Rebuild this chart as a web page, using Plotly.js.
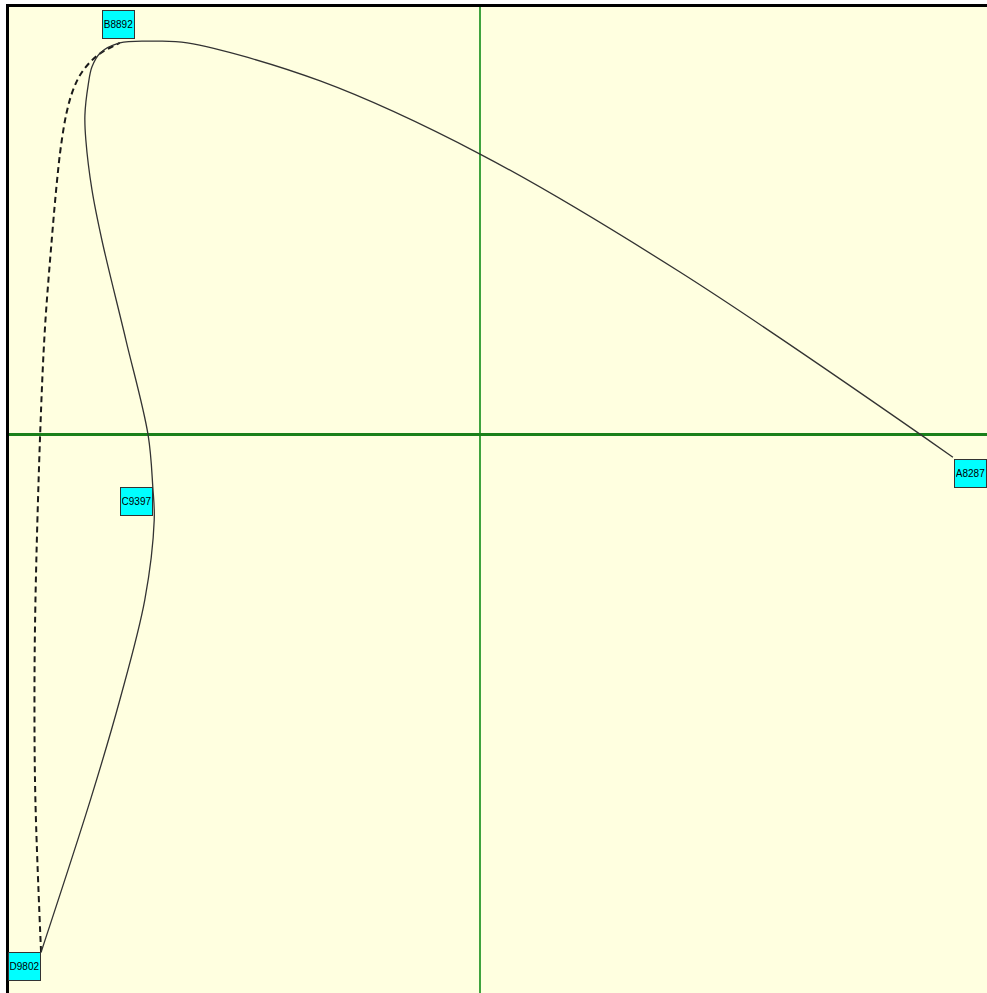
<!DOCTYPE html>
<html>
<head>
<meta charset="utf-8">
<script src="https://cdn.plot.ly/plotly-3.0.1.min.js"></script>
<style>
  html, body { margin: 0; padding: 0; background: #ffffff; }
  #chart { width: 987px; height: 993px; }
</style>
</head>
<body>
<div id="chart"></div>
<script>
// Labelled points
const pointLabels = ["A8287", "B8892", "C9397", "D9802"];
const pointX = [1.002, -0.765, -0.695, -0.932];
const pointY = [-0.053, 0.916, -0.123, -1.211];

// Solid path A -> B -> C -> D
const solidX = [1.002, 0.423, -0.001, -0.340, -0.622, -0.695, -0.765,
                -0.807, -0.824, -0.832, -0.839, -0.837, -0.824, -0.803, -0.752, -0.705,
                -0.695, -0.692, -0.712, -0.765, -0.826, -0.932];
const solidY = [-0.053, 0.380, 0.656, 0.827, 0.916, 0.920, 0.916,
                0.892, 0.860, 0.818, 0.747, 0.689, 0.572, 0.455, 0.221, -0.001,
                -0.123, -0.200, -0.387, -0.621, -0.850, -1.211];

// Dashed path D -> B
const dashX = [-0.932, -0.944, -0.946, -0.944, -0.934, -0.924, -0.909, -0.898, -0.890, -0.878, -0.864, -0.845, -0.811, -0.765];
const dashY = [-1.211, -0.855, -0.621, -0.394, -0.001, 0.244, 0.460, 0.595, 0.673, 0.752, 0.806, 0.848, 0.888, 0.916];

// Label placement per point
const labelXAnchor = ["left", "center", "right", "right"];
const labelYAnchor = ["top", "bottom", "top", "top"];
const labelXShift = [1, -1.5, 0, 0];
const labelYShift = [-2, 4, 0, 0];

const traces = [
  {
    x: dashX, y: dashY, type: "scatter", mode: "lines",
    line: { color: "#1a1a1a", width: 2, dash: "6px,4px", shape: "spline", smoothing: 1 },
    hoverinfo: "skip", showlegend: false
  },
  {
    x: solidX, y: solidY, type: "scatter", mode: "lines",
    line: { color: "#333333", width: 1.3, shape: "spline", smoothing: 1 },
    hoverinfo: "skip", showlegend: false
  }
];

const annotations = pointLabels.map((t, i) => ({
  x: pointX[i], y: pointY[i], xref: "x", yref: "y",
  text: t, showarrow: false,
  xanchor: labelXAnchor[i], yanchor: labelYAnchor[i],
  xshift: labelXShift[i], yshift: labelYShift[i],
  bgcolor: "#00FFFF", bordercolor: "#333333", borderwidth: 1, borderpad: 1,
  width: 29, height: 25,
  font: { family: "Liberation Sans, Arial, sans-serif", size: 10, color: "#000000" }
}));

const layout = {
  width: 987, height: 993,
  margin: { l: 9, r: 0, t: 7, b: 0, pad: 0 },
  paper_bgcolor: "#ffffff",
  plot_bgcolor: "#FFFFE0",
  showlegend: false,
  xaxis: {
    range: [-1, 1.0743], side: "top",
    showline: true, linecolor: "#000000", linewidth: 3, mirror: false,
    showgrid: false, showticklabels: false, ticks: "",
    zeroline: true, zerolinecolor: "#3fa33f", zerolinewidth: 2,
    fixedrange: true
  },
  yaxis: {
    range: [-1.3064, 1],
    showline: true, linecolor: "#000000", linewidth: 3, mirror: false,
    showgrid: false, showticklabels: false, ticks: "",
    zeroline: true, zerolinecolor: "#1a801a", zerolinewidth: 3.5,
    fixedrange: true
  },
  annotations: annotations
};

Plotly.newPlot("chart", traces, layout, { displayModeBar: false, staticPlot: true });
</script>
</body>
</html>
